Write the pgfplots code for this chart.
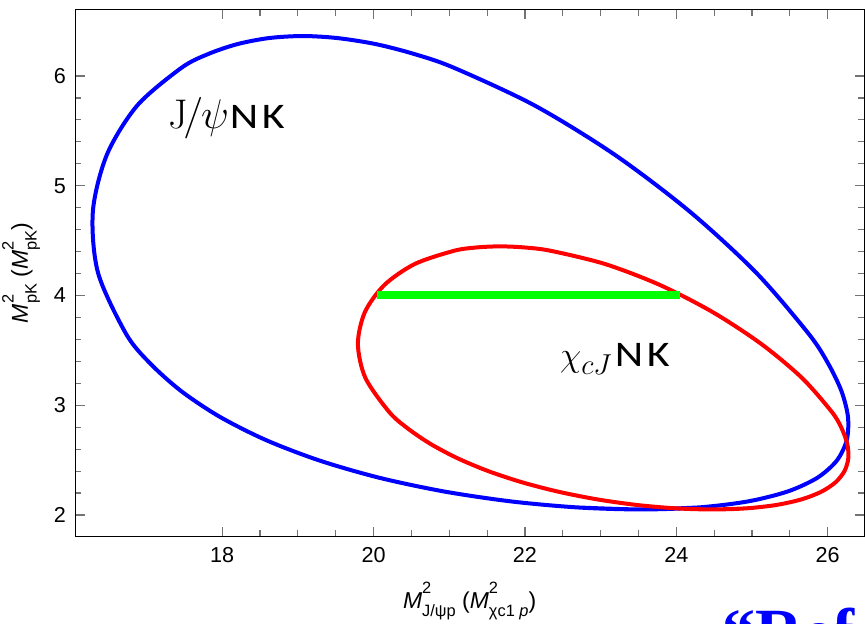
\documentclass[border=0pt]{standalone}
\usepackage[no-math]{fontspec}
\setmainfont{Liberation Sans}
\newfontfamily\carlito{Carlito}
\newfontfamily\tnr{Liberation Serif}
\usepackage{graphicx}
\usepackage{pgfplots}
\pgfplotsset{compat=1.18}
\newcommand{\supsub}[2]{\makebox[0pt][l]{\raisebox{0.62em}{\fontsize{8.2}{9}\selectfont #1}}\raisebox{-0.38em}{\fontsize{8.2}{9}\selectfont #2}}
\newcommand{\NK}{\scalebox{1.22}[1]{\carlito\fontsize{18}{20}\selectfont N\hspace{1.5pt}K}}
\definecolor{mblue}{RGB}{0,0,255}
\definecolor{mred}{RGB}{255,0,0}
\definecolor{mgreen}{RGB}{0,255,0}
\begin{document}
\begin{tikzpicture}
\begin{axis}[
  name=ax,
  scale only axis,
  width=394.35pt, height=263.3pt,
  xmin=16.059, xmax=26.48,
  ymin=1.806, ymax=6.604,
  xtick={18,20,22,24,26},
  ytick={2,3,4,5,6},
  minor x tick num=3,
  minor y tick num=4,
  tick align=inside,
  major tick length=4.75pt,
  minor tick length=3pt,
  tick style={color=black!55, line width=0.6pt},
  axis line style={black, line width=0.5pt},
  /pgf/number format/assume math mode=true,
  tick label style={font=\fontsize{10.8}{12}\selectfont},
  xticklabel style={yshift=-1.85pt},
  yticklabel style={xshift=-1.15pt},
  xlabel={\textit{M}\supsub{2}{J/ψp} (\textit{M}\supsub{2}{χc1 \textit{p}})},
  ylabel={\textit{M}\supsub{2}{pK} (\textit{M}\supsub{2}{pK})},
  label style={font=\fontsize{11.5}{13}\selectfont},
  xlabel style={at={(axis description cs:0.5,-0.1362)}, anchor=base},
  ylabel style={at={(axis description cs:-0.06,0.5)}, anchor=base},
  clip=true,
]
% J/psi N K boundary
\addplot[mblue, line width=2pt, smooth] coordinates {
(22.696,2.0689) (23.536,2.0505) (24.296,2.0689) (24.948,2.1240)
(25.473,2.2147) (25.864,2.3394) (26.121,2.4962) (26.252,2.6822)
(26.268,2.8943) (26.182,3.1289) (26.005,3.3819) (25.751,3.6490)
(25.056,4.2072) (24.176,4.7655) (23.180,5.2856)
(22.125,5.7323) (21.061,6.0751) (20.539,6.1998) (20.029,6.2905)
(19.520,6.3456) (19.065,6.3640) (18.619,6.3456) (18.201,6.2905)
(17.814,6.1998) (17.463,6.0751) (16.879,5.7323) (16.478,5.2856)
(16.291,4.7655) (16.359,4.2072) (16.731,3.6490) (17.047,3.3819)
(17.458,3.1289) (17.969,2.8943) (18.580,2.6822) (19.286,2.4962)
(20.075,2.3394) (20.928,2.2147) (21.814,2.1240)
(22.696,2.0689) (23.536,2.0505) (24.296,2.0689)
};
% chi_cJ N K boundary
\addplot[mred, line width=2pt, smooth] coordinates {
(23.991,2.0607) (24.478,2.0505) (24.925,2.0607) (25.320,2.0913)
(25.650,2.1417) (25.913,2.2111) (26.104,2.2982) (26.223,2.4015)
(26.273,2.5194) (26.258,2.6498) (26.184,2.7904) (26.055,2.9388)
(25.660,3.2490) (25.121,3.5592) (24.481,3.8483)
(23.781,4.0965) (23.057,4.2870) (22.344,4.4067) (21.999,4.4373)
(21.669,4.4476) (21.355,4.4373) (21.060,4.4067) (20.544,4.2870)
(20.144,4.0965) (19.885,3.8483) (19.793,3.5592) (19.892,3.2490)
(20.206,2.9388) (20.448,2.7904) (20.747,2.6498) (21.102,2.5194)
(21.509,2.4015) (21.961,2.2982) (22.449,2.2111)
(22.960,2.1417) (23.479,2.0913) (23.991,2.0607) (24.478,2.0505)
(24.925,2.0607)
};
% green segment
\addplot[mgreen, line width=4pt] coordinates {(20.041,4.0) (24.048,4.0)};
\node[anchor=base west, inner sep=0pt] at (axis cs:17.28,5.526)
  {{\fontsize{21}{24}\selectfont$\mathrm{J}\mkern-2mu/\mkern-1mu\psi$}\hspace{0.5pt}\NK};
\node[anchor=base west, inner sep=0pt] at (axis cs:22.46,3.349)
  {{\fontsize{19}{22}\selectfont$\chi_{cJ}$}\hspace{1pt}\NK};
\end{axis}
\node[anchor=base west, inner sep=0pt, text=mblue] at ([xshift=323.35pt, yshift=-59.15pt]ax.south west)
  {\tnr\bfseries\fontsize{33}{36}\selectfont “Ref};
\pgfresetboundingbox
\path[use as bounding box] ([xshift=-37.65pt, yshift=-43.85pt]ax.south west) rectangle ([xshift=0.5pt, yshift=4.85pt]ax.north east);
\end{tikzpicture}
\end{document}
